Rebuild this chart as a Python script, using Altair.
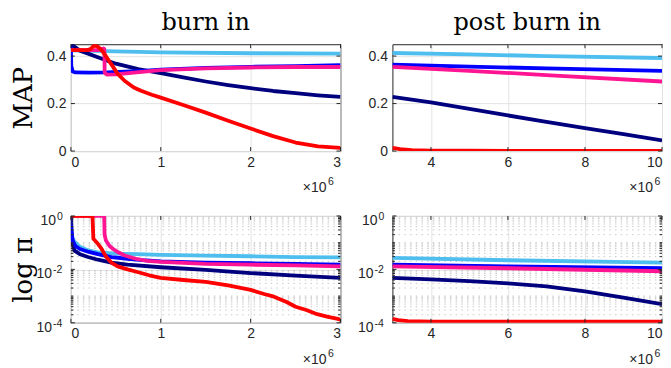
import altair as alt
import pandas as pd

# ---------------- data (x in units of 1e6 iterations) ----------------
series_names = ["light blue", "navy", "blue", "magenta", "red"]
series_colors = ["#4DBEEE", "#00007F", "#0000FF", "#FF1493", "#FF0000"]

# MAP, burn in
map_burn_lightblue_x = [0, 0.5, 1, 2, 3]
map_burn_lightblue_y = [0.424, 0.42, 0.416, 0.412, 0.41]
map_burn_navy_x = [0, 0.1, 0.3, 0.5, 0.75, 1.0, 1.25, 1.5, 1.75, 2.0, 2.25, 2.5, 2.75, 3.0]
map_burn_navy_y = [0.45, 0.423, 0.395, 0.368, 0.345, 0.328, 0.31, 0.293, 0.278, 0.265, 0.253, 0.244, 0.235, 0.228]
map_burn_blue_x = [0, 0.004, 0.02, 0.05, 0.2, 0.4, 0.6, 0.8, 1.0, 1.5, 2.0, 2.5, 3.0]
map_burn_blue_y = [0.44, 0.36, 0.335, 0.331, 0.33, 0.331, 0.334, 0.338, 0.343, 0.35, 0.355, 0.358, 0.362]
map_burn_magenta_x = [0, 0.3, 0.36, 0.372, 0.376, 0.4, 0.5, 0.7, 1.0, 1.5, 2.0, 2.5, 3.0]
map_burn_magenta_y = [0.425, 0.425, 0.432, 0.43, 0.33, 0.322, 0.323, 0.33, 0.341, 0.348, 0.352, 0.354, 0.354]
map_burn_red_x = [0, 0.18, 0.22, 0.26, 0.3, 0.34, 0.38, 0.41, 0.46, 0.52, 0.6, 0.7, 0.78, 0.9, 1.0,
                  1.25, 1.5, 1.75, 2.0, 2.25, 2.5, 2.75, 3.0]
map_burn_red_y = [0.425, 0.425, 0.43, 0.445, 0.44, 0.425, 0.405, 0.388, 0.36, 0.325, 0.295, 0.268, 0.254, 0.237, 0.225,
                  0.194, 0.162, 0.128, 0.095, 0.063, 0.036, 0.02, 0.013]

# MAP, post burn in
map_post_lightblue_x = [3, 5, 7, 10]
map_post_lightblue_y = [0.413, 0.407, 0.4, 0.392]
map_post_navy_x = [3, 4, 5, 6, 7, 8, 9, 10]
map_post_navy_y = [0.228, 0.205, 0.178, 0.15, 0.123, 0.097, 0.071, 0.045]
map_post_blue_x = [3, 5, 7, 10]
map_post_blue_y = [0.364, 0.356, 0.348, 0.338]
map_post_magenta_x = [3, 5, 7, 10]
map_post_magenta_y = [0.355, 0.338, 0.32, 0.293]
map_post_red_x = [3, 3.2, 3.5, 4, 5, 6, 7, 8, 9, 10]
map_post_red_y = [0.013, 0.008, 0.004, 0.002, 0.0015, 0.001, 0.001, 0.001, 0.001, 0.001]

# log pi, burn in
pi_burn_lightblue_x = [0, 0.02, 0.04, 0.1, 0.2, 0.3, 0.5, 0.75, 1, 1.5, 2, 2.5, 3]
pi_burn_lightblue_y = [0.2, 0.14, 0.11, 0.07, 0.05, 0.043, 0.039, 0.037, 0.035, 0.033, 0.031, 0.029, 0.028]
pi_burn_navy_x = [0, 0.003, 0.01, 0.02, 0.04, 0.1, 0.19, 0.3, 0.45, 0.63, 1, 1.5, 2, 2.5, 3]
pi_burn_navy_y = [1, 0.5, 0.2, 0.09, 0.05, 0.037, 0.029, 0.023, 0.018, 0.015, 0.012, 0.0095, 0.0073, 0.0058, 0.0048]
pi_burn_blue_x = [0, 0.005, 0.02, 0.05, 0.1, 0.2, 0.3, 0.45, 0.63, 0.8, 1, 1.5, 2, 2.5, 3]
pi_burn_blue_y = [1, 0.3, 0.12, 0.075, 0.058, 0.045, 0.037, 0.029, 0.025, 0.022, 0.02, 0.018, 0.017, 0.016, 0.015]
pi_burn_magenta_x = [0, 0.37, 0.375, 0.39, 0.43, 0.47, 0.52, 0.6, 0.72, 0.85, 1, 1.5, 2, 2.5, 3]
pi_burn_magenta_y = [1, 1, 0.2, 0.12, 0.075, 0.058, 0.045, 0.033, 0.025, 0.021, 0.019, 0.016, 0.015, 0.014, 0.013]
pi_burn_red_x = [0, 0.24, 0.25, 0.29, 0.34, 0.39, 0.45, 0.52, 0.63, 0.74, 0.87, 1, 1.25, 1.5, 1.75, 2,
                 2.15, 2.26, 2.4, 2.5, 2.62, 2.74, 2.85, 2.97, 3]
pi_burn_red_y = [1, 1, 0.14, 0.1, 0.06, 0.03, 0.018, 0.013, 0.01, 0.008, 0.006, 0.0048, 0.004, 0.0034, 0.0025, 0.0017,
                 0.0012, 0.00095, 0.0006, 0.0004, 0.0003, 0.00021, 0.00017, 0.00014, 0.00013]

# log pi, post burn in
pi_post_lightblue_x = [3, 6, 10]
pi_post_lightblue_y = [0.027, 0.022, 0.018]
pi_post_navy_x = [3, 4, 5, 6, 7, 8, 9, 10]
pi_post_navy_y = [0.0048, 0.0042, 0.0036, 0.003, 0.0023, 0.0015, 0.00088, 0.0005]
pi_post_blue_x = [3, 6, 10]
pi_post_blue_y = [0.015, 0.013, 0.011]
pi_post_magenta_x = [3, 6, 10]
pi_post_magenta_y = [0.013, 0.011, 0.0085]
pi_post_red_x = [3, 3.15, 3.4, 4, 6, 8, 10]
pi_post_red_y = [0.00014, 0.000125, 0.000115, 0.00011, 0.00011, 0.00011, 0.00011]

# axes
burn_xticks = [0, 1, 2, 3]
post_xticks = [4, 6, 8, 10]
map_yticks = [0, 0.2, 0.4]
log_yticks = [1, 0.01, 0.0001]
log_yexp = ["0", "-2", "-4"]
log_minor = [m * 10.0 ** k for k in range(-4, 0) for m in range(1, 10)
             if not (m == 1 and k in (-4, -2))]

panels = {
    "map_burn": [(map_burn_lightblue_x, map_burn_lightblue_y), (map_burn_navy_x, map_burn_navy_y),
                 (map_burn_blue_x, map_burn_blue_y), (map_burn_magenta_x, map_burn_magenta_y),
                 (map_burn_red_x, map_burn_red_y)],
    "map_post": [(map_post_lightblue_x, map_post_lightblue_y), (map_post_navy_x, map_post_navy_y),
                 (map_post_blue_x, map_post_blue_y), (map_post_magenta_x, map_post_magenta_y),
                 (map_post_red_x, map_post_red_y)],
    "pi_burn": [(pi_burn_lightblue_x, pi_burn_lightblue_y), (pi_burn_navy_x, pi_burn_navy_y),
                (pi_burn_blue_x, pi_burn_blue_y), (pi_burn_magenta_x, pi_burn_magenta_y),
                (pi_burn_red_x, pi_burn_red_y)],
    "pi_post": [(pi_post_lightblue_x, pi_post_lightblue_y), (pi_post_navy_x, pi_post_navy_y),
                (pi_post_blue_x, pi_post_blue_y), (pi_post_magenta_x, pi_post_magenta_y),
                (pi_post_red_x, pi_post_red_y)],
}

W, H = 270, 107
AX = "#262626"
SANS = "Liberation Sans"
SERIF = "DejaVu Serif"


def make_panel(pid, xdom, xticks, log, title=None, ytitle=None, ytitle_x=-48, sci_right=-14):
    xs = alt.Scale(domain=xdom, nice=False, zero=False)
    if log:
        ys = alt.Scale(type="log", domain=[1e-4, 1], nice=False)
        yticks = log_yticks
    else:
        ys = alt.Scale(domain=[0, 0.45], nice=False, zero=False)
        yticks = map_yticks

    xaxis = alt.Axis(values=xticks, format="d", grid=True, ticks=False, domain=False,
                     labelPadding=4, title=None)
    ykw = dict(values=yticks, format="~g", grid=True, ticks=False, domain=False,
               labels=not log, labelPadding=5)
    if ytitle:
        ykw.update(title=ytitle, titleX=ytitle_x, titleY=H / 2, titleAngle=270,
                   titleAlign="center", titleBaseline="middle", titleFont=SERIF,
                   titleFontSize=26, titleFontWeight="normal", titleColor="black")
    else:
        ykw.update(title=None)
    yaxis = alt.Axis(**ykw)
    X = lambda f: alt.X(f, scale=xs, axis=xaxis)
    Y = lambda f: alt.Y(f, scale=ys, axis=yaxis)

    layers = []
    if log:
        mdf = pd.DataFrame({"v": log_minor})
        layers.append(alt.Chart(mdf).mark_rule(color="#bdbdbd", strokeWidth=0.8, strokeDash=[1.5, 4.2])
                      .encode(y=Y("v:Q")))

    rows = []
    for name, (xv, yv) in zip(series_names, panels[pid]):
        for a, b in zip(xv, yv):
            rows.append({"series": name, "x": a, "y": b})
    df = pd.DataFrame(rows)
    for name in series_names:
        layers.append(
            alt.Chart(df).transform_filter(alt.datum.series == name)
            .mark_line(strokeWidth=3.8, clip=True, strokeJoin="round")
            .encode(x=X("x:Q"), y=Y("y:Q"),
                    color=alt.Color("series:N", scale=alt.Scale(domain=series_names, range=series_colors),
                                    legend=None))
        )

    # inward ticks
    ydf = pd.DataFrame({"v": yticks})
    xdf = pd.DataFrame({"v": xticks})
    for a, b in [(0, 4), (W - 4, W)]:
        layers.append(alt.Chart(ydf).mark_rule(color=AX, strokeWidth=1)
                      .encode(x=alt.value(a), x2=alt.value(b), y=Y("v:Q")))
    for a, b in [(H - 4, H), (0, 4)]:
        layers.append(alt.Chart(xdf).mark_rule(color=AX, strokeWidth=1)
                      .encode(y=alt.value(a), y2=alt.value(b), x=X("v:Q")))
    if log:
        mdf2 = pd.DataFrame({"v": log_minor})
        for a, b in [(0, 2.5), (W - 2.5, W)]:
            layers.append(alt.Chart(mdf2).mark_rule(color=AX, strokeWidth=1)
                          .encode(x=alt.value(a), x2=alt.value(b), y=Y("v:Q")))
        ldf = pd.DataFrame({"v": log_yticks, "exp": log_yexp})
        for n, xr in [(1, -15), (2, -19)]:
            sub = alt.Chart(ldf).transform_filter(f"length(datum.exp) == {n}")
            layers.append(sub.mark_text(align="right", baseline="alphabetic", dy=9, font=SANS,
                                        fontSize=14, color=AX, text="10")
                          .encode(x=alt.value(xr), y=Y("v:Q")))
            layers.append(sub.mark_text(align="left", baseline="alphabetic", dy=4, font=SANS,
                                        fontSize=10.5, color=AX)
                          .encode(x=alt.value(xr + 1), y=Y("v:Q"), text="exp:N"))

    # x10^6 annotation
    one = pd.DataFrame({"k": [0]})
    layers.append(alt.Chart(one).mark_text(align="right", baseline="alphabetic", font=SANS, fontSize=14,
                                           color=AX, text="×10")
                  .encode(x=alt.value(W + sci_right), y=alt.value(H + 41)))
    layers.append(alt.Chart(one).mark_text(align="left", baseline="alphabetic", font=SANS, fontSize=10.5,
                                           color=AX, text="6")
                  .encode(x=alt.value(W + sci_right + 1.5), y=alt.value(H + 34)))

    ch = alt.layer(*layers).properties(width=W, height=H)
    if title:
        ch = ch.properties(title=alt.TitleParams(title, font=SERIF, fontSize=24, fontWeight="normal",
                                                 color="black", offset=9))
    return ch


p1 = make_panel("map_burn", [0, 3], burn_xticks, False, title="burn in", ytitle="MAP", ytitle_x=-47, sci_right=-14)
p2 = make_panel("map_post", [3, 10], post_xticks, False, title="post burn in", sci_right=-9)
p3 = make_panel("pi_burn", [0, 3], burn_xticks, True, ytitle="log π", ytitle_x=-47, sci_right=-14)
p4 = make_panel("pi_post", [3, 10], post_xticks, True, sci_right=-9)

chart = alt.concat(p1, p2, p3, p4, columns=2, spacing={"row": 65, "column": 52}, bounds="flush").properties(
    padding={"left": 2, "top": 2, "right": 0, "bottom": 0}
).configure_view(
    stroke=AX, strokeWidth=1
).configure_axis(
    labelFont=SANS, labelFontSize=14, labelColor=AX, gridColor="#e3e3e3", gridWidth=1
)

chart.save("out.html", embed_options={"renderer": "svg", "actions": False})
